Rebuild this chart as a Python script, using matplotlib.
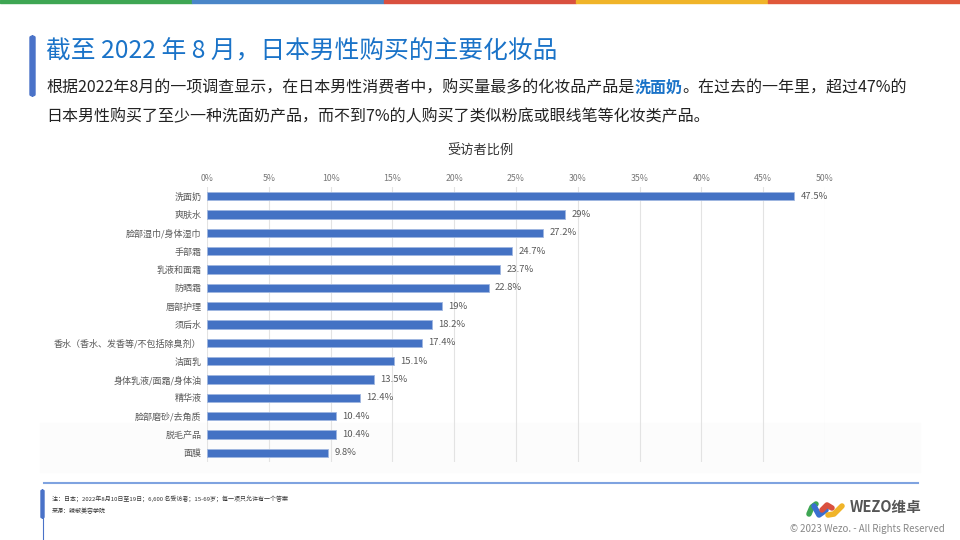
import matplotlib
matplotlib.use("Agg")
import matplotlib.pyplot as plt
import matplotlib.patches as patches
import numpy as np

plt.rcParams['font.family'] = ['Noto Sans CJK SC', 'DejaVu Sans']

# Datos del gráfico
categories = ["洗面奶", "爽肤水", "脸部湿巾/身体湿巾", "手部霜", "乳液和面霜", "防晒霜", "唇部护理",
              "须后水", "香水（香水、发香等/不包括除臭剂）", "洁面乳", "身体乳液/面霜/身体油", "精华液",
              "脸部磨砂/去角质", "脱毛产品", "面膜"]
values = [47.5, 29, 27.2, 24.7, 23.7, 22.8, 19, 18.2, 17.4, 15.1, 13.5, 12.4, 10.4, 10.4, 9.8]
x_ticks = [0, 5, 10, 15, 20, 25, 30, 35, 40, 45, 50]

title = "截至 2022 年 8 月，日本男性购买的主要化妆品"
subtitle_parts = [("根据2022年8月的一项调查显示，在日本男性消费者中，购买量最多的化妆品产品是", "#222222", "normal"),
                  ("洗面奶", "#1a73c8", "bold"),
                  ("。在过去的一年里，超过47%的", "#222222", "normal")]
subtitle_line2 = "日本男性购买了至少一种洗面奶产品，而不到7%的人购买了类似粉底或眼线笔等化妆类产品。"
axis_title = "受访者比例"
note = "注：日本；2022年8月10日至19日；6,600 名受访者；15-69岁；每一项只允许有一个答案"
source = "来源：辣椒美容学院"
strip_colors = ["#3ea653", "#4a86c8", "#d9503f", "#f0b429", "#e0583a"]

W, H = 960, 540
fig = plt.figure(figsize=(9.6, 5.4), dpi=100)
fig.patch.set_facecolor("white")

def fx(x):
    return x / W

def fy(y):
    return 1 - y / H

# franja de colores arriba
for i, c in enumerate(strip_colors):
    fig.patches.append(patches.Rectangle((i / 5, fy(3)), 1 / 5, 3 / H, transform=fig.transFigure,
                                         color=c, zorder=5))

# barra de acento del título
fig.patches.append(patches.FancyBboxPatch((fx(30), fy(96)), 5 / W, 60 / H, transform=fig.transFigure,
                                          boxstyle="round,pad=0,rounding_size=0.003",
                                          color="#4a72c8", zorder=5))

fig.text(fx(46), fy(52), title, fontsize=17.8, color="#1a73c8", va="center", ha="left")

# subtítulo con parte en negrita
renderer = fig.canvas.get_renderer()
x0 = fx(46)
for txt, col, w in subtitle_parts:
    t = fig.text(x0, fy(88), txt, fontsize=11.5, color=col, fontweight=w, va="center", ha="left")
    bb = t.get_window_extent(renderer=renderer)
    x0 = bb.x1 / W
fig.text(fx(46), fy(117), subtitle_line2, fontsize=11.5, color="#222222", va="center", ha="left")

# fondo gris tenue
fig.patches.append(patches.Rectangle((fx(40), fy(472)), 880 / W, 49 / H, transform=fig.transFigure,
                                     color="#fcfcfc", zorder=-1))

fig.text(fx(480), fy(151), axis_title, fontsize=9.5, color="#333333", ha="center", va="center")

ax = fig.add_axes([fx(207), fy(462), (825 - 207) / W, (462 - 187) / H])
ax.set_facecolor("none")
y = np.arange(len(categories))
ax.barh(y, values, height=0.45, color="#4472c4", edgecolor="#9fb6e0", linewidth=0.6, zorder=3)
for yi, v in zip(y, values):
    ax.text(v + 0.5, yi, f"{v:g}%", fontsize=6.8, color="#595959", va="center", ha="left")
ax.set_ylim(len(categories) - 0.5, -0.5)
ax.set_xlim(0, 50)
ax.set_yticks(y)
ax.set_yticklabels(categories, fontsize=6.5, color="#595959")
ax.set_xticks(x_ticks)
ax.set_xticklabels([f"{t}%" for t in x_ticks], fontsize=6.3, color="#777777")
ax.xaxis.tick_top()
ax.tick_params(axis="both", length=0, pad=4)
ax.tick_params(axis="x", pad=3)
ax.grid(axis="x", color="#e3e3e3", linewidth=0.8, zorder=0)
for s in ax.spines.values():
    s.set_visible(False)

# línea inferior
fig.lines.append(plt.Line2D([fx(44), fx(918)], [fy(483), fy(483)], transform=fig.transFigure,
                            color="#7fa3e0", linewidth=1.5))
# acento izquierdo del pie
fig.patches.append(patches.FancyBboxPatch((fx(41), fy(518)), 3 / W, 28 / H, transform=fig.transFigure,
                                          boxstyle="round,pad=0,rounding_size=0.002",
                                          color="#4a72c8", zorder=5))
fig.lines.append(plt.Line2D([fx(42.5), fx(42.5)], [fy(518), fy(540)], transform=fig.transFigure,
                            color="#4a72c8", linewidth=0.8))

fig.text(fx(52), fy(499), note, fontsize=4.3, color="#333333", va="center", ha="left")
fig.text(fx(52), fy(511), source, fontsize=4.3, color="#333333", va="center", ha="left")

# logo
lax = fig.add_axes([fx(806), fy(520), 40 / W, 20 / H])
lax.set_xlim(0, 4)
lax.set_ylim(0, 2)
lax.axis("off")
lax.plot([0.3, 0.6, 1.0], [0.6, 1.3, 1.6], color="#3ea653", linewidth=4, solid_capstyle="round")
lax.plot([0.8, 1.3, 2.0], [1.4, 0.5, 1.0], color="#3a6fd0", linewidth=4, solid_capstyle="round")
lax.plot([1.6, 2.1, 2.6], [1.0, 1.5, 1.2], color="#d9503f", linewidth=4, solid_capstyle="round")
lax.plot([2.2, 2.8, 3.6], [0.5, 0.6, 1.4], color="#f0b429", linewidth=4, solid_capstyle="round")
fig.text(fx(850), fy(507), "WEZO维卓", fontsize=10.5, fontweight="bold", color="#555555",
         va="center", ha="left")
fig.text(fx(945), fy(529), "© 2023 Wezo. - All Rights Reserved", fontsize=7, color="#888888",
         va="center", ha="right")

fig.savefig("out.png", dpi=100)
